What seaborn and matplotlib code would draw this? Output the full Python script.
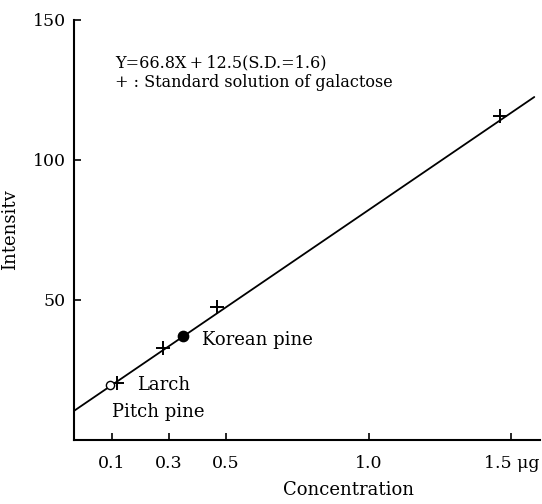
import numpy as np
import pandas as pd
import matplotlib
matplotlib.use("Agg")
import matplotlib.pyplot as plt
import seaborn as sns

# standard solution of galactose (+ marks)
std_conc = [0.12, 0.28, 0.47, 1.46]
std_int = [20.4, 32.9, 47.5, 115.7]

# wood samples
korean_conc, korean_int = 0.35, 37.1
larch_conc, larch_int = 0.095, 19.6

# fitted line as drawn in the figure (Y = 66.8X + 12.5)
line_x = [-0.032, 1.58]
line_y = [10.4, 122.5]

xticks = [0.1, 0.3, 0.5, 1.0, 1.5]
xtick_labels = ["0.1", "0.3", "0.5", "1.0", "1.5 \u03bcg"]
yticks = [50, 100, 150]

sns.set_theme(style="ticks")
plt.rcParams['font.family'] = ['DejaVu Serif']
plt.rcParams['text.color'] = 'black'
plt.rcParams['axes.labelcolor'] = 'black'

fig = plt.figure(figsize=(5.42, 5.04), dpi=100)
ax = fig.add_axes([74/542, 64/504, 466/542, 420/504])

sns.lineplot(x=line_x, y=line_y, color="black", linewidth=1.3, ax=ax)
sns.scatterplot(x=std_conc, y=std_int, marker="+", s=90, color="black",
                linewidth=1.4, ax=ax, zorder=5)
ax.scatter([korean_conc], [korean_int], s=55, color="black", zorder=6)
ax.scatter([larch_conc], [larch_int], s=35, facecolor="white",
           edgecolor="black", linewidth=1.0, zorder=6)

ax.set_xlim(-0.032, 1.60)
ax.set_ylim(0, 150)
ax.set_xticks(xticks)
ax.set_xticklabels(xtick_labels)
ax.set_yticks(yticks)
ax.tick_params(direction="in", length=5, width=1.2, labelsize=12.5, colors="black")
ax.tick_params(axis="x", pad=11)
ax.tick_params(axis="y", pad=6)
sns.despine(ax=ax)
for s in ["left", "bottom"]:
    ax.spines[s].set_linewidth(1.5)
    ax.spines[s].set_color("black")

ax.set_xlabel("")
ax.text((348-74)/466, -50/420, "Concentration", transform=ax.transAxes,
        ha="center", va="center", fontsize=13)
ax.set_ylabel("Intensitv", fontsize=13, labelpad=10)

ax.text(0.112, 134.6, "Y=66.8X\u2009+\u200912.5(S.D.=1.6)", fontsize=11.5,
        va="center")
ax.text(0.112, 127.5, "+ : Standard solution of galactose", fontsize=11.5,
        va="center")
ax.text(0.418, 35.7, "Korean pine", fontsize=13, va="center")
ax.text(0.19, 19.6, "Larch", fontsize=13, va="center")
ax.text(0.10, 10, "Pitch pine", fontsize=13, va="center")

fig.savefig("out.png", dpi=100)
